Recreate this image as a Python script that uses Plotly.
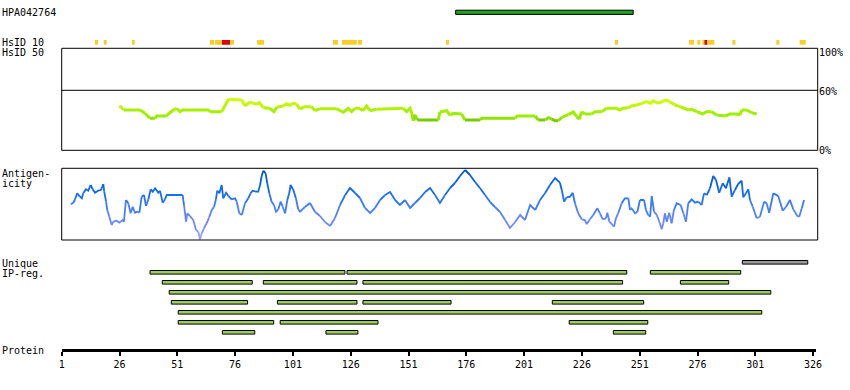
import plotly.graph_objects as go

W, H = 850, 390

# ---------------- data ----------------
tick_vals = [1, 26, 51, 76, 101, 126, 151, 176, 201, 226, 251, 276, 301, 326]

hpa_name = "HPA042764"
hpa_start, hpa_end = 171.4, 248.2

hsid10_start = [15.4, 19.3, 31.4, 65.1, 67.3, 70.3, 73.8, 85.5, 118.3, 122.2, 129.2, 167.2,
                240.3, 272.3, 275.9, 278.1, 279.0, 280.3, 291.1, 310.1, 320.2]
hsid10_end = [16.7, 20.5, 32.6, 66.9, 70.2, 73.8, 75.5, 88.5, 120.5, 128.7, 130.9, 168.5,
              241.6, 274.5, 277.2, 279.0, 280.3, 283.3, 292.4, 311.4, 322.8]
hsid10_high = [0, 0, 0, 0, 0, 1, 0, 0, 0, 0, 0, 0,
               0, 0, 0, 0, 1, 0, 0, 0, 0]

hsid50_res = [25.9, 27.4, 27.9, 34.9, 37.0, 39.2, 41.4, 42.1, 46.1, 49.3,
              50.7, 52.2, 53.3, 64.4, 65.1, 70.2, 73.1, 78.9, 80.3, 82.4,
              83.9, 85.3, 86.5, 88.2, 91.1, 92.8, 94.0, 96.8, 98.3, 99.7,
              101.2, 102.6, 104.1, 105.8, 109.1, 110.6, 112.7, 119.9, 122.8, 125.0,
              126.4, 127.9, 130.0, 131.2, 132.9, 134.3, 137.2, 148.7, 150.2, 151.6,
              152.4, 153.1, 153.8, 154.8, 163.9, 164.6, 167.5, 169.0, 170.4, 174.0,
              175.4, 181.9, 182.7, 197.1, 198.1, 205.8, 207.1, 210.1, 211.5, 212.9,
              214.4, 215.8, 217.3, 220.1, 222.3, 223.8, 224.9, 225.9, 227.3, 230.2,
              231.7, 234.6, 236.7, 241.0, 242.2, 243.9, 246.1, 247.5, 249.7, 251.9,
              254.0, 255.5, 256.9, 258.4, 259.8, 261.2, 262.7, 264.1, 266.3, 268.5,
              270.6, 272.0, 273.5, 275.7, 278.2, 280.0, 282.1, 284.3, 287.9, 290.0,
              292.9, 294.4, 295.1, 297.3, 299.4, 301.6]
hsid50_pct = [44.3, 42.0, 40.3, 40.3, 37.0, 32.0, 32.0, 34.3, 34.3, 40.3,
              42.0, 38.6, 40.3, 40.3, 38.6, 38.6, 51.0, 50.3, 44.3, 48.3,
              47.0, 46.3, 47.6, 42.6, 42.0, 38.6, 43.0, 44.3, 46.3, 45.0,
              47.0, 46.3, 41.0, 43.6, 43.6, 39.6, 41.6, 41.6, 38.0, 42.0,
              38.6, 42.0, 42.0, 39.6, 44.3, 39.6, 41.0, 42.0, 38.6, 42.0,
              37.0, 29.6, 35.3, 30.3, 30.3, 38.3, 39.6, 35.0, 37.0, 36.3,
              30.3, 30.3, 32.0, 32.0, 34.3, 34.3, 30.3, 30.3, 32.6, 31.3,
              29.6, 29.6, 33.0, 35.6, 38.3, 33.6, 31.0, 38.6, 36.3, 36.3,
              38.6, 38.6, 42.0, 42.0, 40.3, 42.0, 42.6, 44.3, 45.3, 47.0,
              48.6, 47.0, 49.6, 47.6, 47.6, 49.6, 50.3, 48.3, 45.3, 43.6,
              42.0, 40.3, 41.0, 38.6, 36.3, 38.6, 38.6, 35.3, 34.3, 36.3,
              36.3, 35.3, 40.3, 40.3, 37.6, 36.3]

antig_res = [5.0, 6.0, 6.8, 7.7, 8.6, 9.7, 10.3, 11.5, 12.5, 13.5, 14.4, 15.4, 16.8, 17.9, 18.3,
             19.0, 19.4, 20.2, 20.7, 21.6, 22.6, 23.3, 24.8, 25.9, 27.4, 27.9, 28.8, 29.8, 30.8,
             31.7, 32.7, 33.7, 34.6, 35.6, 36.6, 37.5, 38.5, 39.5, 40.4, 41.4, 42.8, 43.5, 44.7,
             45.7, 46.4, 53.3, 53.9, 54.8, 55.3, 56.5, 57.9, 59.1, 60.1, 60.8, 61.6, 62.5, 63.7,
             64.8, 65.9, 66.9, 67.7, 68.3, 69.2, 70.2, 70.9, 72.1, 73.1, 74.5, 76.0, 76.7, 77.8,
             78.9, 80.3, 81.7, 82.7, 83.6, 85.0, 86.0, 86.8, 87.5, 88.2, 89.2, 89.9, 90.8, 91.8,
             92.8, 93.7, 94.7, 95.7, 96.6, 97.6, 98.6, 99.4, 100.0, 101.2, 102.3, 103.3, 104.1,
             106.2, 108.4, 110.6, 112.7, 114.9, 117.1, 119.2, 121.4, 123.6, 125.7, 127.9, 130.0,
             132.2, 134.4, 136.5, 138.7, 140.9, 143.0, 145.2, 147.3, 149.5, 151.7, 153.8, 156.0,
             158.2, 160.3, 162.5, 164.6, 166.8, 169.0, 171.1, 173.3, 175.5, 177.6, 179.8, 181.9,
             184.1, 186.3, 188.4, 190.6, 192.8, 194.9, 197.1, 199.3, 201.4, 203.6, 205.8, 207.9,
             210.1, 212.2, 214.4,
             216.5, 217.3, 218.3, 219.4, 220.9, 222.0, 223.0, 224.4, 225.9, 227.3, 228.1, 229.5,
             230.9, 232.7, 233.8, 235.0, 236.4, 237.0, 237.9, 238.9, 239.9, 240.7, 241.7, 243.2,
             244.6, 246.1, 246.8, 247.5, 249.0, 250.0, 251.1, 252.9, 253.7, 254.7, 255.5, 256.2,
             257.2, 258.4, 259.5, 260.5, 261.2, 261.9, 262.7, 263.8, 264.8, 265.8, 267.0, 268.7,
             269.9, 271.0, 272.0, 273.5, 274.9, 276.3, 277.8, 278.8, 280.0, 281.4, 282.8, 284.0,
             285.4, 286.9, 288.3, 289.8, 290.8, 292.2, 293.6, 295.1, 295.8, 297.0, 298.0, 298.7,
             299.9, 301.6, 303.0, 304.8, 305.9, 307.0, 308.8, 310.9, 312.9, 314.3, 316.0, 317.4,
             319.2, 320.0, 321.1, 322.1]
antig_score = [35.7, 37.3, 40.7, 46.7, 44.0, 41.7, 46.7, 50.7, 49.3, 55.0, 50.7, 47.3, 49.3, 50.0, 51.7,
               56.0, 48.3, 38.3, 30.0, 23.3, 15.0, 18.3, 19.3, 17.3, 20.0, 18.3, 40.0, 36.7, 26.7,
               33.3, 27.3, 28.3, 27.3, 43.3, 45.0, 34.0, 40.7, 50.7, 48.3, 51.7, 47.3, 49.3, 37.3,
               40.7, 45.0, 45.0, 35.0, 18.3, 26.7, 24.0, 20.0, 10.0, 8.3, 0.7, 6.7, 11.7, 16.7,
               22.7, 30.0, 33.3, 40.7, 49.3, 46.7, 55.0, 41.7, 47.3, 44.0, 40.7, 41.7, 38.3, 26.7,
               25.0, 36.7, 41.7, 46.7, 49.3, 48.3, 48.3, 55.0, 64.0, 69.3, 66.7, 56.7, 46.7, 38.3,
               35.0, 28.3, 30.7, 38.3, 33.3, 26.7, 40.0, 46.7, 55.0, 50.0, 41.7, 30.7, 28.3,
               33, 37, 28, 24, 18, 14, 22, 35, 45, 52, 47, 42,
               32, 27, 32, 40, 45, 48, 40, 35, 40, 32, 37, 42,
               48, 52, 45, 37, 45, 52, 57, 64, 70, 65, 58, 52,
               45, 38, 33, 28, 20, 12, 18, 25, 20, 35, 30, 40,
               47, 55, 62,
               57.3, 50.0, 38.3, 42.7, 43.3, 47.3, 36.7, 26.7, 20.7, 20.0, 16.0, 20.7,
               25.0, 31.7, 26.7, 20.7, 21.7, 27.3, 18.3, 16.0, 13.3, 21.7, 26.7, 36.7,
               41.7, 41.7, 30.0, 31.7, 26.7, 28.3, 40.0, 40.0, 30.0, 25.0, 23.3, 44.0,
               28.3, 25.0, 18.3, 10.7, 16.7, 26.7, 18.3, 27.3, 16.7, 30.0, 36.7, 35.0,
               26.7, 18.3, 36.7, 40.7, 37.3, 38.3, 35.0, 46.7, 45.0, 51.7, 64.0, 60.0,
               47.3, 56.7, 51.7, 62.7, 43.3, 50.0, 56.0, 59.3, 42.7, 46.7, 50.7, 40.0,
               33.3, 21.7, 23.3, 38.3, 36.7, 27.3, 46.7, 44.0, 29.3, 33.3, 40.0, 30.7,
               24.0, 23.3, 31.7, 40.0]

ip_row = [0, 1, 1, 1, 2, 2, 2, 2, 3, 4, 4, 4, 4, 5, 6, 6, 6, 7, 7, 7]
ip_start = [295.4, 39.2, 124.4, 255.6, 44.5, 88.2, 131.3, 268.6, 47.5, 48.4, 94.3, 131.3, 213.2,
            51.4, 51.4, 95.5, 220.5, 70.5, 115.3, 239.6]
ip_end = [323.7, 123.5, 245.4, 294.7, 83.4, 128.7, 243.6, 289.5, 307.7, 81.4, 128.7, 169.4, 252.7,
          303.8, 92.7, 137.8, 254.5, 84.5, 129.1, 253.6]

# ---------------- helpers ----------------
def py(px):
    return 1 - px / H


def lerp_color(stops, v):
    if v <= stops[0][0]:
        return stops[0][1]
    if v >= stops[-1][0]:
        return stops[-1][1]
    for (a, ca), (b, cb) in zip(stops[:-1], stops[1:]):
        if a <= v <= b:
            t = (v - a) / (b - a)
            c1 = [int(ca[i:i + 2], 16) for i in (1, 3, 5)]
            c2 = [int(cb[i:i + 2], 16) for i in (1, 3, 5)]
            c = [round(c1[k] + (c2[k] - c1[k]) * t) for k in range(3)]
            return "#%02x%02x%02x" % tuple(c)


def colored_runs(xs, ys, stops, q):
    runs = []
    cur_c, cur_x, cur_y = None, [], []
    for i in range(len(xs) - 1):
        v = round(((ys[i] + ys[i + 1]) / 2) / q) * q
        c = lerp_color(stops, v)
        if c != cur_c:
            if cur_c is not None:
                runs.append((cur_c, cur_x, cur_y))
            cur_c, cur_x, cur_y = c, [xs[i]], [ys[i]]
        cur_x.append(xs[i + 1])
        cur_y.append(ys[i + 1])
    runs.append((cur_c, cur_x, cur_y))
    return runs


FONT = "DejaVu Sans Mono"
fig = go.Figure()

# HPA epitope bar + HsID 10 blocks (top rows)
fig.add_trace(go.Bar(orientation="h", y=[0], x=[hpa_end - hpa_start], base=[hpa_start],
                     width=0.14, marker=dict(color="#1fa01f", line=dict(color="black", width=1)),
                     xaxis="x", yaxis="y4", hoverinfo="skip"))
fig.add_trace(go.Bar(orientation="h", y=[1] * len(hsid10_start),
                     x=[e - s for s, e in zip(hsid10_start, hsid10_end)], base=hsid10_start,
                     width=0.16,
                     marker=dict(color=["#dd0000" if h else "#ffcc22" for h in hsid10_high],
                                 line=dict(width=0)),
                     xaxis="x", yaxis="y4", hoverinfo="skip"))

# HsID 50 identity line
hs_stops = [(29, "#66bb00"), (31, "#88dd00"), (34, "#99ee00"), (40, "#a6f000"),
            (44, "#bff500"), (50, "#ccff00")]
for c, xs, ys in colored_runs(hsid50_res, hsid50_pct, hs_stops, 2):
    fig.add_trace(go.Scatter(x=xs, y=ys, mode="lines", line=dict(color=c, width=3),
                             xaxis="x", yaxis="y", hoverinfo="skip"))

# Antigenicity line
ag_stops = [(0, "#aaaaff"), (15, "#7788ff"), (30, "#4a80ff"), (45, "#1a6ef5"),
            (60, "#0060e0"), (70, "#0050c8")]
for c, xs, ys in colored_runs(antig_res, antig_score, ag_stops, 5):
    fig.add_trace(go.Scatter(x=xs, y=ys, mode="lines", line=dict(color=c, width=1.8),
                             xaxis="x", yaxis="y2", hoverinfo="skip"))

# Unique IP regions
fig.add_trace(go.Bar(orientation="h", y=ip_row, x=[e - s for s, e in zip(ip_start, ip_end)],
                     base=ip_start, width=0.36,
                     marker=dict(color=["#999999" if r == 0 else "#9acd5a" for r in ip_row],
                                 line=dict(color="black", width=1)),
                     xaxis="x", yaxis="y3", hoverinfo="skip"))

x_left, x_right = 61.7 / W, 817.7 / W
shapes = [
    dict(type="rect", xref="paper", yref="paper", x0=x_left, x1=x_right, y0=py(150.3), y1=py(48.3),
         line=dict(color="black", width=1)),
    dict(type="line", xref="paper", yref="y", x0=x_left, x1=x_right, y0=60, y1=60,
         line=dict(color="black", width=1)),
    dict(type="rect", xref="paper", yref="paper", x0=x_left, x1=x_right, y0=py(240), y1=py(168.3),
         line=dict(color="black", width=1)),
]

labels = [
    ("HPA042764", 0, 13), ("HsID 10", 0, 42.5), ("HsID 50", 0, 53),
    ("Antigen-", 0, 173), ("icity", 0, 183.5), ("Unique", 0, 263.5), ("IP-reg.", 0, 273.5),
    ("Protein", 0, 350), ("100%", 817, 53), ("60%", 817, 91), ("0%", 817, 150),
]
annotations = [dict(text=t, x=x / W, y=py(y), xref="paper", yref="paper", xanchor="left",
                    yanchor="middle", showarrow=False, font=dict(family=FONT, size=10, color="black"))
               for t, x, y in labels]

hidden = dict(visible=False, fixedrange=True, automargin=False)
fig.update_layout(
    template="none",
    width=W, height=H, autosize=False, margin=dict(l=0, r=0, t=0, b=0, pad=0), showlegend=False,
    plot_bgcolor="white", paper_bgcolor="white", barmode="overlay",
    font=dict(family=FONT, size=10, color="black"),
    xaxis=dict(domain=[61.7 / W, 816 / W], range=[1, 1 + (816 - 61.7) / 2.312], anchor="free",
               position=py(349.5), showline=True, linewidth=3, linecolor="black",
               ticks="outside", ticklen=4, tickwidth=1.5, tickcolor="black",
               tickvals=tick_vals, ticktext=[str(v) for v in tick_vals], automargin=False,
               showgrid=False, zeroline=False, tickfont=dict(family=FONT, size=10, color="black"),
               fixedrange=True),
    yaxis=dict(domain=[py(150.3), py(48.3)], range=[0, 102], **hidden),
    yaxis2=dict(domain=[py(240), py(168.3)], range=[0, 71.7], **hidden),
    yaxis3=dict(domain=[py(337.3), py(257.3)], range=[7.5, -0.5], **hidden),
    yaxis4=dict(domain=[py(48.3), py(0.3)], range=[1.2, -0.4], **hidden),
    shapes=shapes, annotations=annotations,
)

fig.write_html("out.html", config={"displayModeBar": False, "responsive": False},
               post_script=("document.documentElement.style.overflow='hidden';"
                            "document.body.style.overflow='hidden';"
                            "document.body.style.margin='0px';document.body.style.padding='0px';"))
